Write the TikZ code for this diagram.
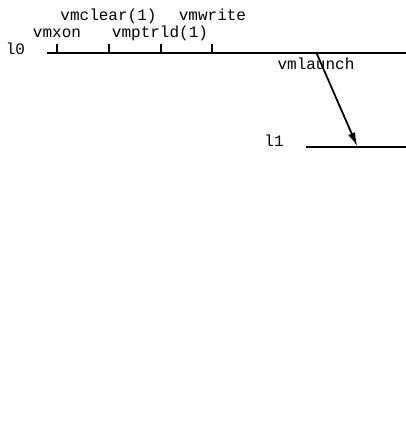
\documentclass[tikz,border=0pt]{standalone}
\usepackage{fontspec}
\setmonofont{Liberation Mono}
\usetikzlibrary{arrows.meta}
\begin{document}
\begin{tikzpicture}[x=1pt,y=-1pt,
  lbl/.style={font=\ttfamily\fontsize{16}{16}\selectfont, anchor=base, inner sep=0pt},
  tl/.style={line width=2pt},
  tick/.style={line width=2pt}]
\useasboundingbox (0,0) rectangle (406,434);
% lane l0
\coordinate (a0) at (47,53);
\coordinate (b0) at (406,53);
\draw[tl] (a0) -- (b0);
\node[lbl] (l0) at (15.5,54) {l0};
% ticks
\foreach \n/\x in {t1/57.3,t2/109,t3/160.7,t4/212.3}{
  \coordinate (\n) at (\x,53);
  \coordinate (\n top) at (\x,43.5);
  \draw[tick] (\n) -- (\n top);
}
\node[lbl] (vmxon) at (57,37.5) {vmxon};
\node[lbl] (vmptrld) at (160,37.5) {vmptrld(1)};
\node[lbl] (vmclear) at (108.5,20.5) {vmclear(1)};
\node[lbl] (vmwrite) at (212.5,20.5) {vmwrite};
% lane l1
\coordinate (a1) at (306,146.5);
\coordinate (b1) at (406,146.5);
\draw[tl] (a1) -- (b1);
\node[lbl] (l1) at (274,146) {l1};
% vmlaunch
\coordinate (s) at (316.5,53);
\coordinate (e) at (357.3,146.5);
\draw[line width=1.8pt,-{Latex[length=14pt,width=7.5pt]}] (s) -- (e);
\node[lbl] (vmlaunch) at (316,69) {vmlaunch};
\end{tikzpicture}
\end{document}
